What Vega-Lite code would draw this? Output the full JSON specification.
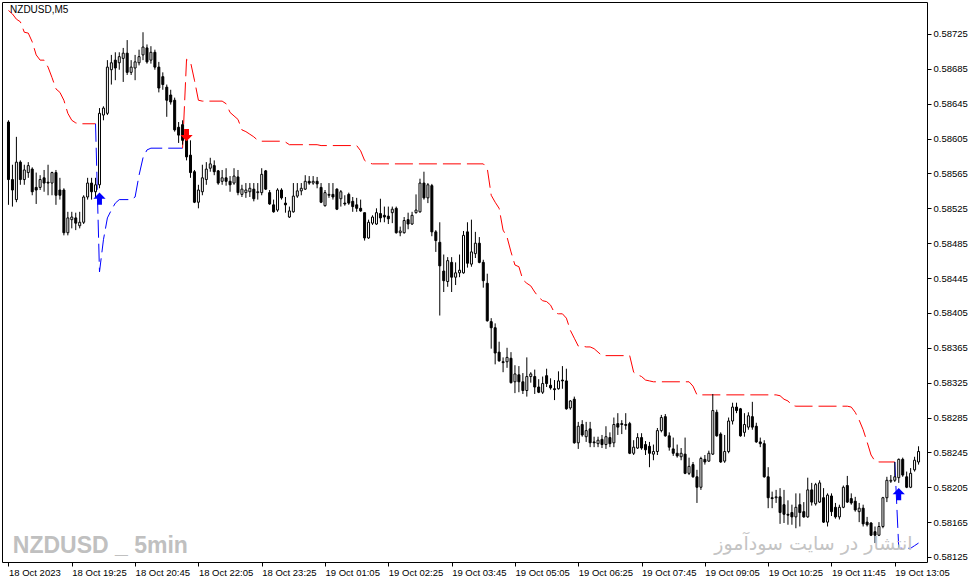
{
"$schema": "https://vega.github.io/schema/vega-lite/v6.json",
"width": 925, "height": 560,
"autosize": {"type": "none"},
"padding": {"left": 2, "top": 2, "right": 45, "bottom": 22},
"background": "white",
"config": {
  "view": {"stroke": "#000000", "strokeWidth": 1},
  "axis": {"grid": false, "domain": false, "tickColor": "#000000", "labelColor": "#000000", "labelFont": "Liberation Sans", "labelFontSize": 9.5, "tickSize": 4, "labelOverlap": false},
  "axisY": {"tickCount": 16}
},
"datasets": {
"bars": [
{"i":0,"o":0.58624,"h":0.58626,"l":0.58529,"c":0.58558},
{"i":1,"o":0.58558,"h":0.58575,"l":0.58527,"c":0.58546},
{"i":2,"o":0.58535,"h":0.58607,"l":0.58532,"c":0.58578},
{"i":3,"o":0.58578,"h":0.5858,"l":0.58552,"c":0.58558},
{"i":4,"o":0.58558,"h":0.58575,"l":0.58552,"c":0.58569},
{"i":5,"o":0.58566,"h":0.58578,"l":0.5856,"c":0.58574},
{"i":6,"o":0.5857,"h":0.58572,"l":0.5854,"c":0.58544},
{"i":7,"o":0.58549,"h":0.58566,"l":0.5853,"c":0.58546},
{"i":8,"o":0.58549,"h":0.58563,"l":0.58546,"c":0.58558},
{"i":9,"o":0.5856,"h":0.58569,"l":0.58544,"c":0.58554},
{"i":10,"o":0.58555,"h":0.58575,"l":0.5854,"c":0.58554},
{"i":11,"o":0.58554,"h":0.58567,"l":0.5854,"c":0.58566},
{"i":12,"o":0.58566,"h":0.58569,"l":0.58529,"c":0.5854},
{"i":13,"o":0.58546,"h":0.5856,"l":0.58535,"c":0.5854},
{"i":14,"o":0.58546,"h":0.58548,"l":0.58494,"c":0.58497},
{"i":15,"o":0.58497,"h":0.58521,"l":0.58494,"c":0.58514},
{"i":16,"o":0.58512,"h":0.58521,"l":0.58502,"c":0.58515},
{"i":17,"o":0.58514,"h":0.5852,"l":0.585,"c":0.58508},
{"i":18,"o":0.58505,"h":0.58521,"l":0.58502,"c":0.58509},
{"i":19,"o":0.58509,"h":0.5854,"l":0.58507,"c":0.58538},
{"i":20,"o":0.58538,"h":0.5856,"l":0.58535,"c":0.58554},
{"i":21,"o":0.58554,"h":0.5856,"l":0.58535,"c":0.58544},
{"i":22,"o":0.58544,"h":0.5856,"l":0.58538,"c":0.58552},
{"i":23,"o":0.58552,"h":0.5864,"l":0.58548,"c":0.58634},
{"i":24,"o":0.58632,"h":0.58642,"l":0.58626,"c":0.5864},
{"i":25,"o":0.58634,"h":0.58695,"l":0.58632,"c":0.58687},
{"i":26,"o":0.58684,"h":0.58701,"l":0.58667,"c":0.58692},
{"i":27,"o":0.58695,"h":0.58704,"l":0.58672,"c":0.58686},
{"i":28,"o":0.58692,"h":0.58704,"l":0.58684,"c":0.58699},
{"i":29,"o":0.58697,"h":0.58709,"l":0.5867,"c":0.58703},
{"i":30,"o":0.58703,"h":0.58718,"l":0.58678,"c":0.58681},
{"i":31,"o":0.58681,"h":0.58695,"l":0.58678,"c":0.58687},
{"i":32,"o":0.58686,"h":0.58701,"l":0.58672,"c":0.58693},
{"i":33,"o":0.58692,"h":0.58707,"l":0.58689,"c":0.58699},
{"i":34,"o":0.58701,"h":0.58727,"l":0.58695,"c":0.5871},
{"i":35,"o":0.58709,"h":0.58713,"l":0.58691,"c":0.58693},
{"i":36,"o":0.58695,"h":0.58711,"l":0.58691,"c":0.58704},
{"i":37,"o":0.58704,"h":0.58707,"l":0.58684,"c":0.58687},
{"i":38,"o":0.58687,"h":0.58693,"l":0.58658,"c":0.58663},
{"i":39,"o":0.58676,"h":0.58681,"l":0.58661,"c":0.58667},
{"i":40,"o":0.58664,"h":0.58667,"l":0.5863,"c":0.58649},
{"i":41,"o":0.58655,"h":0.58661,"l":0.58644,"c":0.58647},
{"i":42,"o":0.58649,"h":0.58652,"l":0.58613,"c":0.58615},
{"i":43,"o":0.58618,"h":0.58624,"l":0.586,"c":0.58609},
{"i":44,"o":0.58621,"h":0.58626,"l":0.58598,"c":0.58603},
{"i":45,"o":0.58603,"h":0.58609,"l":0.5858,"c":0.58584},
{"i":46,"o":0.58586,"h":0.58603,"l":0.5856,"c":0.58566},
{"i":47,"o":0.58567,"h":0.58569,"l":0.58531,"c":0.58532},
{"i":48,"o":0.58532,"h":0.58552,"l":0.58525,"c":0.58546},
{"i":49,"o":0.58544,"h":0.58575,"l":0.5854,"c":0.5856},
{"i":50,"o":0.58558,"h":0.58578,"l":0.58552,"c":0.5857},
{"i":51,"o":0.58571,"h":0.58583,"l":0.58567,"c":0.58576},
{"i":52,"o":0.58574,"h":0.5858,"l":0.58563,"c":0.58567},
{"i":53,"o":0.58568,"h":0.58569,"l":0.58552,"c":0.58554},
{"i":54,"o":0.58556,"h":0.58569,"l":0.58552,"c":0.5856},
{"i":55,"o":0.5856,"h":0.58571,"l":0.58551,"c":0.58556},
{"i":56,"o":0.58556,"h":0.58562,"l":0.58544,"c":0.58552},
{"i":57,"o":0.58554,"h":0.58571,"l":0.58552,"c":0.58562},
{"i":58,"o":0.58561,"h":0.58569,"l":0.5854,"c":0.58543},
{"i":59,"o":0.58541,"h":0.58552,"l":0.58538,"c":0.58547},
{"i":60,"o":0.58543,"h":0.58554,"l":0.58537,"c":0.58546},
{"i":61,"o":0.58544,"h":0.58554,"l":0.58538,"c":0.58548},
{"i":62,"o":0.58547,"h":0.58554,"l":0.58533,"c":0.58536},
{"i":63,"o":0.58543,"h":0.58554,"l":0.58535,"c":0.58544},
{"i":64,"o":0.58543,"h":0.58571,"l":0.5854,"c":0.58564},
{"i":65,"o":0.58568,"h":0.58569,"l":0.58546,"c":0.58547},
{"i":66,"o":0.58543,"h":0.58546,"l":0.58529,"c":0.5853},
{"i":67,"o":0.58529,"h":0.58535,"l":0.5852,"c":0.58521},
{"i":68,"o":0.58523,"h":0.58548,"l":0.58521,"c":0.58546},
{"i":69,"o":0.58546,"h":0.58548,"l":0.58535,"c":0.58537},
{"i":70,"o":0.58531,"h":0.58538,"l":0.5852,"c":0.58529},
{"i":71,"o":0.58515,"h":0.58527,"l":0.58514,"c":0.58522},
{"i":72,"o":0.58521,"h":0.58554,"l":0.5852,"c":0.58539},
{"i":73,"o":0.58539,"h":0.58554,"l":0.58537,"c":0.58545},
{"i":74,"o":0.58545,"h":0.58554,"l":0.5854,"c":0.58548},
{"i":75,"o":0.58547,"h":0.58563,"l":0.58546,"c":0.58556},
{"i":76,"o":0.58556,"h":0.58562,"l":0.58552,"c":0.58554},
{"i":77,"o":0.58554,"h":0.58562,"l":0.58552,"c":0.58556},
{"i":78,"o":0.58556,"h":0.58561,"l":0.58548,"c":0.58553},
{"i":79,"o":0.58549,"h":0.58554,"l":0.58531,"c":0.58532},
{"i":80,"o":0.58528,"h":0.58546,"l":0.58527,"c":0.58543},
{"i":81,"o":0.5854,"h":0.58554,"l":0.58537,"c":0.58541},
{"i":82,"o":0.58541,"h":0.58554,"l":0.58535,"c":0.58538},
{"i":83,"o":0.58547,"h":0.58548,"l":0.58523,"c":0.58524},
{"i":84,"o":0.58536,"h":0.58546,"l":0.58527,"c":0.58544},
{"i":85,"o":0.58531,"h":0.5854,"l":0.58528,"c":0.5853},
{"i":86,"o":0.58541,"h":0.58543,"l":0.58529,"c":0.58531},
{"i":87,"o":0.58533,"h":0.58538,"l":0.58521,"c":0.58527},
{"i":88,"o":0.58529,"h":0.58537,"l":0.58521,"c":0.58525},
{"i":89,"o":0.58525,"h":0.58535,"l":0.58521,"c":0.58522},
{"i":90,"o":0.5852,"h":0.5852,"l":0.58488,"c":0.58491},
{"i":91,"o":0.58491,"h":0.58512,"l":0.5849,"c":0.58509},
{"i":92,"o":0.58508,"h":0.58517,"l":0.58506,"c":0.58515},
{"i":93,"o":0.58507,"h":0.58525,"l":0.58506,"c":0.5852},
{"i":94,"o":0.58519,"h":0.58536,"l":0.58509,"c":0.58514},
{"i":95,"o":0.58517,"h":0.58527,"l":0.58509,"c":0.58515},
{"i":96,"o":0.58516,"h":0.58527,"l":0.58507,"c":0.58513},
{"i":97,"o":0.5852,"h":0.58527,"l":0.58508,"c":0.58524},
{"i":98,"o":0.58525,"h":0.58527,"l":0.58496,"c":0.58497},
{"i":99,"o":0.58497,"h":0.58504,"l":0.58493,"c":0.58499},
{"i":100,"o":0.58497,"h":0.58515,"l":0.58496,"c":0.58511},
{"i":101,"o":0.58512,"h":0.5852,"l":0.58501,"c":0.58507},
{"i":102,"o":0.58507,"h":0.58521,"l":0.58506,"c":0.58517},
{"i":103,"o":0.5852,"h":0.58541,"l":0.58519,"c":0.58523},
{"i":104,"o":0.58521,"h":0.58559,"l":0.5852,"c":0.58554},
{"i":105,"o":0.58554,"h":0.58567,"l":0.58535,"c":0.58537},
{"i":106,"o":0.58537,"h":0.58554,"l":0.58531,"c":0.58552},
{"i":107,"o":0.58551,"h":0.58553,"l":0.58493,"c":0.58498},
{"i":108,"o":0.58498,"h":0.585,"l":0.58475,"c":0.58488},
{"i":109,"o":0.58486,"h":0.58509,"l":0.58402,"c":0.58459},
{"i":110,"o":0.58453,"h":0.58472,"l":0.58429,"c":0.58442},
{"i":111,"o":0.58441,"h":0.58469,"l":0.58435,"c":0.58465},
{"i":112,"o":0.58463,"h":0.58469,"l":0.58429,"c":0.58446},
{"i":113,"o":0.58446,"h":0.58463,"l":0.58437,"c":0.58451},
{"i":114,"o":0.58451,"h":0.58472,"l":0.58446,"c":0.58454},
{"i":115,"o":0.58451,"h":0.58499,"l":0.5845,"c":0.58494},
{"i":116,"o":0.58498,"h":0.58509,"l":0.58457,"c":0.58462},
{"i":117,"o":0.58461,"h":0.58512,"l":0.58458,"c":0.58475},
{"i":118,"o":0.58473,"h":0.58498,"l":0.58468,"c":0.58485},
{"i":119,"o":0.58485,"h":0.58492,"l":0.58462,"c":0.58463},
{"i":120,"o":0.58463,"h":0.58466,"l":0.58434,"c":0.58442},
{"i":121,"o":0.58439,"h":0.5845,"l":0.58395,"c":0.58396},
{"i":122,"o":0.58395,"h":0.58399,"l":0.58364,"c":0.58388},
{"i":123,"o":0.58388,"h":0.58393,"l":0.58346,"c":0.58359},
{"i":124,"o":0.5836,"h":0.58372,"l":0.58349,"c":0.5835},
{"i":125,"o":0.58349,"h":0.58354,"l":0.58337,"c":0.58348},
{"i":126,"o":0.58349,"h":0.58365,"l":0.58342,"c":0.58354},
{"i":127,"o":0.58353,"h":0.5836,"l":0.58324,"c":0.58325},
{"i":128,"o":0.58326,"h":0.58345,"l":0.58313,"c":0.58335},
{"i":129,"o":0.58334,"h":0.58344,"l":0.58314,"c":0.58326},
{"i":130,"o":0.58326,"h":0.58336,"l":0.58312,"c":0.58316},
{"i":131,"o":0.58316,"h":0.58354,"l":0.58309,"c":0.58332},
{"i":132,"o":0.58332,"h":0.58337,"l":0.58325,"c":0.58335},
{"i":133,"o":0.58332,"h":0.5834,"l":0.58312,"c":0.5832},
{"i":134,"o":0.5832,"h":0.58329,"l":0.58313,"c":0.58314},
{"i":135,"o":0.58314,"h":0.58332,"l":0.58312,"c":0.58324},
{"i":136,"o":0.58333,"h":0.58341,"l":0.5832,"c":0.58324},
{"i":137,"o":0.58322,"h":0.5833,"l":0.58317,"c":0.58319},
{"i":138,"o":0.58318,"h":0.58328,"l":0.58305,"c":0.58317},
{"i":139,"o":0.58318,"h":0.58338,"l":0.58317,"c":0.58327},
{"i":140,"o":0.58328,"h":0.58344,"l":0.58318,"c":0.58327},
{"i":141,"o":0.58327,"h":0.58341,"l":0.58294,"c":0.58295},
{"i":142,"o":0.58296,"h":0.58305,"l":0.58294,"c":0.58304},
{"i":143,"o":0.58306,"h":0.58309,"l":0.58255,"c":0.58256},
{"i":144,"o":0.58256,"h":0.5828,"l":0.58249,"c":0.58275},
{"i":145,"o":0.58277,"h":0.58282,"l":0.58263,"c":0.58265},
{"i":146,"o":0.58263,"h":0.5828,"l":0.58257,"c":0.5827},
{"i":147,"o":0.58272,"h":0.5828,"l":0.58251,"c":0.58256},
{"i":148,"o":0.58257,"h":0.58263,"l":0.58251,"c":0.58256},
{"i":149,"o":0.58255,"h":0.58263,"l":0.58251,"c":0.58259},
{"i":150,"o":0.5826,"h":0.58265,"l":0.5825,"c":0.58254},
{"i":151,"o":0.58254,"h":0.58275,"l":0.58249,"c":0.58263},
{"i":152,"o":0.58262,"h":0.58268,"l":0.58251,"c":0.58255},
{"i":153,"o":0.58256,"h":0.58285,"l":0.58251,"c":0.58277},
{"i":154,"o":0.58278,"h":0.5829,"l":0.58265,"c":0.58274},
{"i":155,"o":0.58278,"h":0.58282,"l":0.58266,"c":0.58277},
{"i":156,"o":0.58277,"h":0.5829,"l":0.58271,"c":0.58276},
{"i":157,"o":0.58278,"h":0.5828,"l":0.58243,"c":0.58244},
{"i":158,"o":0.58244,"h":0.58259,"l":0.58242,"c":0.58251},
{"i":159,"o":0.5825,"h":0.58267,"l":0.58249,"c":0.58262},
{"i":160,"o":0.58262,"h":0.58267,"l":0.58248,"c":0.5825},
{"i":161,"o":0.58254,"h":0.58258,"l":0.58242,"c":0.58248},
{"i":162,"o":0.58252,"h":0.58257,"l":0.58228,"c":0.58244},
{"i":163,"o":0.58243,"h":0.58254,"l":0.58236,"c":0.58246},
{"i":164,"o":0.58246,"h":0.58273,"l":0.58242,"c":0.5827},
{"i":165,"o":0.5827,"h":0.58288,"l":0.58268,"c":0.58285},
{"i":166,"o":0.58286,"h":0.58289,"l":0.58263,"c":0.58264},
{"i":167,"o":0.58264,"h":0.58268,"l":0.58247,"c":0.58251},
{"i":168,"o":0.58249,"h":0.58262,"l":0.58241,"c":0.58244},
{"i":169,"o":0.58244,"h":0.58254,"l":0.58239,"c":0.58241},
{"i":170,"o":0.5824,"h":0.5825,"l":0.58236,"c":0.58244},
{"i":171,"o":0.58243,"h":0.58262,"l":0.5822,"c":0.58221},
{"i":172,"o":0.58221,"h":0.58239,"l":0.58219,"c":0.58229},
{"i":173,"o":0.58231,"h":0.58234,"l":0.58216,"c":0.58217},
{"i":174,"o":0.58217,"h":0.58225,"l":0.58187,"c":0.58205},
{"i":175,"o":0.58205,"h":0.5824,"l":0.58202,"c":0.58238},
{"i":176,"o":0.58237,"h":0.58242,"l":0.58231,"c":0.58234},
{"i":177,"o":0.58235,"h":0.58247,"l":0.58234,"c":0.58244},
{"i":178,"o":0.58243,"h":0.58312,"l":0.58242,"c":0.58293},
{"i":179,"o":0.58291,"h":0.58294,"l":0.58263,"c":0.58264},
{"i":180,"o":0.58266,"h":0.58268,"l":0.58233,"c":0.58234},
{"i":181,"o":0.58235,"h":0.58265,"l":0.58233,"c":0.58246},
{"i":182,"o":0.58246,"h":0.58285,"l":0.58244,"c":0.58281},
{"i":183,"o":0.58281,"h":0.58302,"l":0.58277,"c":0.58297},
{"i":184,"o":0.58297,"h":0.58302,"l":0.5829,"c":0.58293},
{"i":185,"o":0.58295,"h":0.58296,"l":0.58263,"c":0.58264},
{"i":186,"o":0.58268,"h":0.5829,"l":0.58263,"c":0.58277},
{"i":187,"o":0.58274,"h":0.58291,"l":0.58271,"c":0.58287},
{"i":188,"o":0.58286,"h":0.58303,"l":0.58271,"c":0.58274},
{"i":189,"o":0.58275,"h":0.58279,"l":0.58256,"c":0.58257},
{"i":190,"o":0.58257,"h":0.58262,"l":0.58251,"c":0.58255},
{"i":191,"o":0.58255,"h":0.58259,"l":0.58216,"c":0.58217},
{"i":192,"o":0.58217,"h":0.58228,"l":0.58181,"c":0.58193},
{"i":193,"o":0.58193,"h":0.582,"l":0.58181,"c":0.58192},
{"i":194,"o":0.58193,"h":0.58202,"l":0.58187,"c":0.58194},
{"i":195,"o":0.58194,"h":0.58204,"l":0.58163,"c":0.58176},
{"i":196,"o":0.58185,"h":0.58202,"l":0.58164,"c":0.58174},
{"i":197,"o":0.58174,"h":0.5819,"l":0.58162,"c":0.58173},
{"i":198,"o":0.58176,"h":0.58185,"l":0.58162,"c":0.58171},
{"i":199,"o":0.58171,"h":0.58198,"l":0.58158,"c":0.58182},
{"i":200,"o":0.58185,"h":0.58198,"l":0.5816,"c":0.58176},
{"i":201,"o":0.58177,"h":0.58188,"l":0.5817,"c":0.58171},
{"i":202,"o":0.58171,"h":0.58216,"l":0.5817,"c":0.58202},
{"i":203,"o":0.58202,"h":0.5821,"l":0.58184,"c":0.58188},
{"i":204,"o":0.58186,"h":0.5821,"l":0.58184,"c":0.58208},
{"i":205,"o":0.58188,"h":0.58213,"l":0.58187,"c":0.5821},
{"i":206,"o":0.58193,"h":0.58204,"l":0.58164,"c":0.58165},
{"i":207,"o":0.58165,"h":0.58198,"l":0.5816,"c":0.58196},
{"i":208,"o":0.58195,"h":0.58198,"l":0.58172,"c":0.58177},
{"i":209,"o":0.58182,"h":0.58187,"l":0.58169,"c":0.58171},
{"i":210,"o":0.58171,"h":0.58185,"l":0.58168,"c":0.58182},
{"i":211,"o":0.58182,"h":0.58207,"l":0.58181,"c":0.58205},
{"i":212,"o":0.58207,"h":0.58218,"l":0.58187,"c":0.58188},
{"i":213,"o":0.58192,"h":0.58198,"l":0.58185,"c":0.58187},
{"i":214,"o":0.58189,"h":0.58194,"l":0.58177,"c":0.58179},
{"i":215,"o":0.58177,"h":0.58187,"l":0.58165,"c":0.58181},
{"i":216,"o":0.58181,"h":0.58185,"l":0.5816,"c":0.58163},
{"i":217,"o":0.58165,"h":0.58171,"l":0.5816,"c":0.58162},
{"i":218,"o":0.58164,"h":0.58165,"l":0.58149,"c":0.5815},
{"i":219,"o":0.58154,"h":0.5816,"l":0.58141,"c":0.5815},
{"i":220,"o":0.5815,"h":0.58165,"l":0.58149,"c":0.5816},
{"i":221,"o":0.5816,"h":0.58194,"l":0.58158,"c":0.58193},
{"i":222,"o":0.58193,"h":0.58217,"l":0.58188,"c":0.58213},
{"i":223,"o":0.58212,"h":0.58219,"l":0.5821,"c":0.58213},
{"i":224,"o":0.58213,"h":0.58234,"l":0.58211,"c":0.58217},
{"i":225,"o":0.58216,"h":0.58238,"l":0.5821,"c":0.58237},
{"i":226,"o":0.58237,"h":0.58239,"l":0.58217,"c":0.58219},
{"i":227,"o":0.58217,"h":0.58223,"l":0.58204,"c":0.58205},
{"i":228,"o":0.58205,"h":0.58227,"l":0.58204,"c":0.58221},
{"i":229,"o":0.58225,"h":0.5824,"l":0.58223,"c":0.58236},
{"i":230,"o":0.58234,"h":0.58252,"l":0.58231,"c":0.58246}
],
"stops": [
{"i":0,"v":0.58752,"s":"r1"},{"i":1,"v":0.58748,"s":"r1"},{"i":2,"v":0.58742,"s":"r1"},{"i":3,"v":0.58739,"s":"r1"},{"i":4,"v":0.58727,"s":"r1"},{"i":5,"v":0.58726,"s":"r1"},{"i":6,"v":0.58716,"s":"r1"},{"i":7,"v":0.58701,"s":"r1"},{"i":8,"v":0.58695,"s":"r1"},{"i":9,"v":0.58695,"s":"r1"},{"i":10,"v":0.58687,"s":"r1"},{"i":11,"v":0.58675,"s":"r1"},{"i":12,"v":0.58662,"s":"r1"},{"i":13,"v":0.58658,"s":"r1"},{"i":14,"v":0.58649,"s":"r1"},{"i":15,"v":0.58634,"s":"r1"},{"i":16,"v":0.58626,"s":"r1"},{"i":17,"v":0.58623,"s":"r1"},{"i":18,"v":0.58622,"s":"r1"},{"i":22,"v":0.58622,"s":"r1"},
{"i":22,"v":0.58622,"s":"b1"},{"i":23,"v":0.58452,"s":"b1"},{"i":24,"v":0.58489,"s":"b1"},{"i":25,"v":0.58514,"s":"b1"},{"i":26,"v":0.58523,"s":"b1"},{"i":27,"v":0.58531,"s":"b1"},{"i":28,"v":0.58535,"s":"b1"},{"i":31,"v":0.58535,"s":"b1"},{"i":32,"v":0.58538,"s":"b1"},{"i":33,"v":0.58563,"s":"b1"},{"i":34,"v":0.58583,"s":"b1"},{"i":35,"v":0.58592,"s":"b1"},{"i":36,"v":0.58594,"s":"b1"},{"i":44,"v":0.58594,"s":"b1"},
{"i":44,"v":0.58594,"s":"r2"},{"i":45,"v":0.58696,"s":"r2"},{"i":46,"v":0.58693,"s":"r2"},{"i":47,"v":0.58672,"s":"r2"},{"i":48,"v":0.58649,"s":"r2"},{"i":49,"v":0.58648,"s":"r2"},{"i":54,"v":0.58648,"s":"r2"},{"i":55,"v":0.58645,"s":"r2"},{"i":56,"v":0.58635,"s":"r2"},{"i":57,"v":0.58631,"s":"r2"},{"i":58,"v":0.58627,"s":"r2"},{"i":59,"v":0.58615,"s":"r2"},{"i":60,"v":0.58613,"s":"r2"},{"i":61,"v":0.5861,"s":"r2"},{"i":62,"v":0.58607,"s":"r2"},{"i":63,"v":0.58603,"s":"r2"},{"i":64,"v":0.58602,"s":"r2"},{"i":69,"v":0.58602,"s":"r2"},{"i":70,"v":0.58601,"s":"r2"},{"i":71,"v":0.58598,"s":"r2"},{"i":78,"v":0.58598,"s":"r2"},{"i":79,"v":0.58597,"s":"r2"},{"i":88,"v":0.58597,"s":"r2"},{"i":89,"v":0.58591,"s":"r2"},{"i":90,"v":0.5858,"s":"r2"},{"i":91,"v":0.58577,"s":"r2"},{"i":92,"v":0.58576,"s":"r2"},{"i":120,"v":0.58576,"s":"r2"},{"i":121,"v":0.58571,"s":"r2"},{"i":122,"v":0.5854,"s":"r2"},{"i":123,"v":0.58532,"s":"r2"},{"i":124,"v":0.58525,"s":"r2"},{"i":125,"v":0.585,"s":"r2"},{"i":126,"v":0.58492,"s":"r2"},{"i":127,"v":0.58475,"s":"r2"},{"i":128,"v":0.5846,"s":"r2"},{"i":129,"v":0.58458,"s":"r2"},{"i":130,"v":0.58443,"s":"r2"},{"i":131,"v":0.58439,"s":"r2"},{"i":132,"v":0.58436,"s":"r2"},{"i":133,"v":0.58429,"s":"r2"},{"i":134,"v":0.58423,"s":"r2"},{"i":135,"v":0.58419,"s":"r2"},{"i":136,"v":0.58418,"s":"r2"},{"i":137,"v":0.58414,"s":"r2"},{"i":138,"v":0.58405,"s":"r2"},{"i":139,"v":0.58404,"s":"r2"},{"i":140,"v":0.58404,"s":"r2"},{"i":141,"v":0.58399,"s":"r2"},{"i":142,"v":0.58385,"s":"r2"},{"i":143,"v":0.58376,"s":"r2"},{"i":144,"v":0.58367,"s":"r2"},{"i":145,"v":0.58367,"s":"r2"},{"i":146,"v":0.58366,"s":"r2"},{"i":147,"v":0.58366,"s":"r2"},{"i":148,"v":0.58364,"s":"r2"},{"i":149,"v":0.5836,"s":"r2"},{"i":150,"v":0.58356,"s":"r2"},{"i":157,"v":0.58356,"s":"r2"},{"i":158,"v":0.58337,"s":"r2"},{"i":159,"v":0.58334,"s":"r2"},{"i":160,"v":0.58332,"s":"r2"},{"i":161,"v":0.58328,"s":"r2"},{"i":162,"v":0.58327,"s":"r2"},{"i":163,"v":0.58326,"s":"r2"},{"i":172,"v":0.58326,"s":"r2"},{"i":173,"v":0.58321,"s":"r2"},{"i":174,"v":0.58311,"s":"r2"},{"i":194,"v":0.58311,"s":"r2"},{"i":195,"v":0.5831,"s":"r2"},{"i":196,"v":0.58306,"s":"r2"},{"i":197,"v":0.58304,"s":"r2"},{"i":198,"v":0.58299,"s":"r2"},{"i":199,"v":0.58298,"s":"r2"},{"i":212,"v":0.58298,"s":"r2"},{"i":213,"v":0.58297,"s":"r2"},{"i":214,"v":0.58291,"s":"r2"},{"i":215,"v":0.58282,"s":"r2"},{"i":216,"v":0.58271,"s":"r2"},{"i":217,"v":0.58257,"s":"r2"},{"i":218,"v":0.58242,"s":"r2"},{"i":219,"v":0.58235,"s":"r2"},{"i":220,"v":0.58234,"s":"r2"},{"i":224,"v":0.58234,"s":"r2"},
{"i":224,"v":0.58234,"s":"b2"},{"i":225,"v":0.58135,"s":"b2"},{"i":228,"v":0.58135,"s":"b2"},{"i":229,"v":0.58138,"s":"b2"},{"i":230,"v":0.58141,"s":"b2"}
],
"signals": [
{"i":23,"p":0.58536,"d":"buy"},
{"i":45,"p":0.58609,"d":"sell"},
{"i":225,"p":0.58197,"d":"buy"}
]
},
"layer": [
{"data": {"name": "stops"},
 "mark": {"type": "line", "strokeWidth": 1, "strokeDash": [18, 6]},
 "encoding": {
  "x": {"field": "i", "type": "quantitative", "title": null,
        "scale": {"domain": [-0.375, 230.875], "nice": false, "zero": false},
        "axis": {"orient": "bottom", "values": [0,16,32,48,64,80,96,112,128,144,160,176,192,208,224], "tickCount": 30,
                 "labelExpr": "['18 Oct 2023','18 Oct 19:25','18 Oct 20:45','18 Oct 22:05','18 Oct 23:25','19 Oct 01:05','19 Oct 02:25','19 Oct 03:45','19 Oct 05:05','19 Oct 06:25','19 Oct 07:45','19 Oct 09:05','19 Oct 10:25','19 Oct 11:45','19 Oct 13:05'][round(datum.value/16)]",
                 "labelAlign": "left", "labelBaseline": "top", "labelPadding": 1, "labelOverlap": false, "labelFlush": false, "labelBound": false}},
  "y": {"field": "v", "type": "quantitative", "title": null,
        "scale": {"domain": [0.5811926, 0.587617], "nice": false, "zero": false},
        "axis": {"orient": "right", "values": [0.58125,0.58165,0.58205,0.58245,0.58285,0.58325,0.58365,0.58405,0.58445,0.58485,0.58525,0.58565,0.58605,0.58645,0.58685,0.58725], "tickCount": 30,
                 "format": ".5f", "labelPadding": 2, "labelBaseline": "middle", "labelOverlap": false, "labelFlush": false, "labelBound": false}},
  "color": {"field": "s", "type": "nominal", "legend": null,
            "scale": {"domain": ["r1","r2","b1","b2"], "range": ["#ff0000","#ff0000","#0000ff","#0000ff"]}}
 }},
{"data": {"name": "bars"},
 "mark": {"type": "rule", "color": "#000000", "strokeWidth": 1},
 "encoding": {
  "x": {"field": "i", "type": "quantitative", "title": null},
  "y": {"field": "l", "type": "quantitative", "title": null},
  "y2": {"field": "h"}
 }},
{"data": {"name": "bars"},
 "mark": {"type": "bar", "width": 2, "stroke": "#000000", "strokeWidth": 1},
 "encoding": {
  "x": {"field": "i", "type": "quantitative", "title": null},
  "y": {"field": "o", "type": "quantitative", "title": null},
  "y2": {"field": "c"},
  "fill": {"condition": {"test": "datum.c >= datum.o", "value": "#ffffff"}, "value": "#000000"}
 }},
{"data": {"name": "signals"},
 "transform": [{"filter": "datum.d == 'buy'"}],
 "mark": {"type": "point", "shape": "M0,-1L1,0L0.4,0L0.4,1L-0.4,1L-0.4,0L-1,0Z", "filled": true, "color": "#0000ff", "opacity": 1, "size": 150},
 "encoding": {
  "x": {"field": "i", "type": "quantitative", "title": null},
  "y": {"field": "p", "type": "quantitative", "title": null}
 }},
{"data": {"name": "signals"},
 "transform": [{"filter": "datum.d == 'sell'"}],
 "mark": {"type": "point", "shape": "M0,1L1,0L0.4,0L0.4,-1L-0.4,-1L-0.4,0L-1,0Z", "filled": true, "color": "#ff0000", "opacity": 1, "size": 150},
 "encoding": {
  "x": {"field": "i", "type": "quantitative", "title": null},
  "y": {"field": "p", "type": "quantitative", "title": null}
 }},
{"data": {"values": [{}]},
 "mark": {"type": "text", "text": "NZDUSD,M5", "align": "left", "baseline": "middle", "font": "Liberation Sans", "fontSize": 10, "color": "#000000"},
 "encoding": {"x": {"datum": 0.4}, "y": {"datum": 0.58752}}},
{"data": {"values": [{}]},
 "mark": {"type": "text", "text": "NZDUSD _ 5min", "align": "left", "baseline": "alphabetic", "font": "Liberation Sans", "fontWeight": "bold", "fontSize": 23, "color": "#c0c0c0"},
 "encoding": {"x": {"datum": 1.1}, "y": {"datum": 0.5813}}},
{"data": {"values": [{}]},
 "mark": {"type": "text", "text": "انتشار در سایت سودآموز", "align": "right", "baseline": "alphabetic", "font": "DejaVu Sans", "fontSize": 19, "color": "#c4c4c4"},
 "encoding": {"x": {"datum": 228.5}, "y": {"datum": 0.58133}}}
]
}
